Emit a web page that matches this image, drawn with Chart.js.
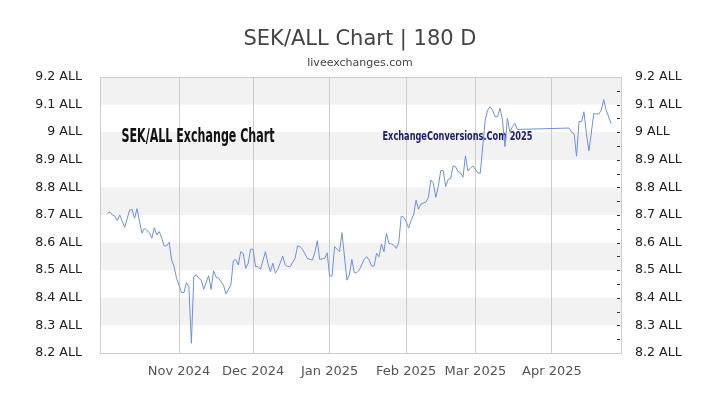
<!DOCTYPE html>
<html><head><meta charset="utf-8">
<script src="https://cdn.jsdelivr.net/npm/chart.js@4.4.1/dist/chart.umd.min.js"></script>
<style>html,body{margin:0;padding:0;background:#fff;}#wrap{width:720px;height:405px;}</style>
</head><body><div id="wrap"><canvas id="c" width="720" height="405"></canvas></div>
<script>
// ---- data ----
const titleText = 'SEK/ALL Chart | 180 D';
const subtitleText = 'liveexchanges.com';
const chartLabel = 'SEK/ALL Exchange Chart';
const watermarkText = 'ExchangeConversions.Com 2025';
const unit = 'ALL';

const dates = [
'2024-10-03','2024-10-04','2024-10-05','2024-10-06','2024-10-07','2024-10-08','2024-10-10','2024-10-12','2024-10-13','2024-10-14',
'2024-10-15','2024-10-16','2024-10-17','2024-10-18','2024-10-20','2024-10-21','2024-10-22','2024-10-23','2024-10-24','2024-10-25',
'2024-10-26','2024-10-27','2024-10-28','2024-10-29','2024-10-30','2024-10-31','2024-11-02','2024-11-03','2024-11-04','2024-11-05',
'2024-11-06','2024-11-07','2024-11-08','2024-11-09','2024-11-10','2024-11-11','2024-11-13','2024-11-14','2024-11-15','2024-11-16',
'2024-11-17','2024-11-19','2024-11-20','2024-11-22','2024-11-23','2024-11-24','2024-11-25','2024-11-26','2024-11-27','2024-11-28',
'2024-11-29','2024-11-30','2024-12-01','2024-12-02','2024-12-03','2024-12-04','2024-12-06','2024-12-07','2024-12-08','2024-12-09',
'2024-12-10','2024-12-11','2024-12-13','2024-12-14','2024-12-15','2024-12-16','2024-12-18','2024-12-19','2024-12-20','2024-12-21',
'2024-12-23','2024-12-24','2024-12-25','2024-12-26','2024-12-27','2024-12-28','2024-12-30','2024-12-31','2025-01-01','2025-01-02',
'2025-01-03','2025-01-05','2025-01-06','2025-01-08','2025-01-09','2025-01-10','2025-01-11','2025-01-12','2025-01-13','2025-01-15',
'2025-01-16','2025-01-17','2025-01-18','2025-01-19','2025-01-20','2025-01-21','2025-01-22','2025-01-23','2025-01-24','2025-01-25',
'2025-01-26','2025-01-27','2025-01-28','2025-01-29','2025-01-30','2025-01-31','2025-02-01','2025-02-02','2025-02-03','2025-02-04',
'2025-02-05','2025-02-06','2025-02-07','2025-02-09','2025-02-10','2025-02-11','2025-02-12','2025-02-13','2025-02-14','2025-02-15',
'2025-02-16','2025-02-17','2025-02-18','2025-02-19','2025-02-20','2025-02-21','2025-02-22','2025-02-23','2025-02-24','2025-02-25',
'2025-02-26','2025-02-27','2025-02-28','2025-03-02','2025-03-03','2025-03-05','2025-03-06','2025-03-07','2025-03-08','2025-03-09',
'2025-03-10','2025-03-11','2025-03-12','2025-03-13','2025-03-14','2025-03-15','2025-03-16','2025-03-17','2025-03-18','2025-04-08',
'2025-04-09','2025-04-10','2025-04-11','2025-04-12','2025-04-13','2025-04-14','2025-04-15','2025-04-16','2025-04-18','2025-04-19',
'2025-04-20','2025-04-21','2025-04-22','2025-04-23','2025-04-25'
];
const rates = [
8.706,8.711,8.700,8.696,8.680,8.700,8.655,8.718,8.720,8.688,
8.723,8.676,8.634,8.652,8.636,8.616,8.654,8.628,8.640,8.616,
8.588,8.588,8.601,8.537,8.513,8.471,8.419,8.419,8.455,8.440,
8.235,8.476,8.483,8.471,8.464,8.431,8.480,8.430,8.498,8.475,
8.471,8.446,8.414,8.446,8.534,8.539,8.519,8.567,8.561,8.507,
8.525,8.576,8.576,8.513,8.513,8.503,8.567,8.525,8.495,8.525,
8.489,8.503,8.551,8.519,8.513,8.513,8.543,8.588,8.585,8.576,
8.543,8.539,8.537,8.563,8.607,8.539,8.543,8.563,8.479,8.479,
8.585,8.567,8.636,8.464,8.483,8.539,8.491,8.491,8.501,8.539,
8.549,8.537,8.515,8.515,8.561,8.549,8.595,8.567,8.634,8.597,
8.595,8.591,8.579,8.600,8.696,8.692,8.676,8.652,8.681,8.700,
8.754,8.721,8.740,8.747,8.764,8.827,8.815,8.764,8.803,8.861,
8.861,8.803,8.829,8.833,8.878,8.875,8.857,8.853,8.837,8.914,
8.859,8.869,8.878,8.853,8.851,9.044,9.080,9.092,9.080,9.056,
9.056,9.087,9.045,8.948,9.050,9.000,9.020,9.032,9.010,9.015,
9.000,8.995,8.913,9.038,9.038,9.074,8.995,8.932,9.068,9.066,
9.066,9.080,9.118,9.080,9.031
];
const xRange = ['2024-09-30', '2025-04-29'];
const monthTickDates = ['2024-11-01','2024-12-01','2025-01-01','2025-02-01','2025-03-01','2025-04-01'];
const monthTickLabels = ['Nov 2024','Dec 2024','Jan 2025','Feb 2025','Mar 2025','Apr 2025'];
const yRange = [8.2, 9.2];

// ---- helpers ----
const BASE = Date.UTC(2024, 10, 1);
function dayNum(s) { const p = s.split('-').map(Number); return (Date.UTC(p[0], p[1]-1, p[2]) - BASE) / 86400000; }
function yLabel(v) { return (Math.round(v * 10) / 10) + ' ' + unit; }
function isMajor(v) { return Math.abs(v * 10 - Math.round(v * 10)) < 1e-6; }

const bandsPlugin = {
  id: 'bands',
  beforeDraw(chart) {
    const { ctx, chartArea: a } = chart;
    const ys = chart.scales.y;
    const t = ys.ticks;
    ctx.save();
    ctx.fillStyle = '#f2f2f2';
    for (let i = 1; i < t.length - 1; i += 2) {
      const y1 = ys.getPixelForValue(t[i].value), y2 = ys.getPixelForValue(t[i+1].value);
      ctx.fillRect(a.left, Math.min(y1, y2), a.right - a.left, Math.abs(y2 - y1));
    }
    ctx.strokeStyle = '#cccccc'; ctx.lineWidth = 1;
    ctx.strokeRect(Math.round(a.left) + 0.5, Math.round(a.top) + 0.5, Math.round(a.right - a.left), Math.round(a.bottom - a.top));
    ctx.restore();
  },
  afterDraw(chart) {
    // small tick dashes inside the right edge for every y2 tick
    const { ctx, chartArea: a } = chart;
    const s = chart.scales.y2;
    ctx.save();
    ctx.strokeStyle = '#333333'; ctx.lineWidth = 1;
    s.ticks.forEach(t => {
      const y = Math.round(s.getPixelForValue(t.value)) + 0.5;
      if (y < a.top + 2 || y > a.bottom - 2) return;
      ctx.beginPath(); ctx.moveTo(Math.round(a.right) - 4, y); ctx.lineTo(Math.round(a.right) - 1, y); ctx.stroke();
    });
    ctx.restore();
  }
};

function drawCondensed(ctx, text, x, baseline, targetW, font, color) {
  ctx.save();
  ctx.font = font; ctx.fillStyle = color; ctx.textBaseline = 'alphabetic'; ctx.textAlign = 'left';
  const w = ctx.measureText(text).width;
  ctx.translate(x, baseline); ctx.scale(targetW / w, 1);
  ctx.fillText(text, 0, 0);
  ctx.restore();
}
const textPlugin = {
  id: 'texts',
  beforeDatasetsDraw(chart) {
    const ctx = chart.ctx, a = chart.chartArea;
    drawCondensed(ctx, chartLabel, a.left + 21.5, a.top + 64.7, 153, 'bold 19px "DejaVu Sans Condensed", "DejaVu Sans"', '#111111');
    drawCondensed(ctx, watermarkText, a.left + 282.5, a.top + 63.3, 150, 'bold 13px "DejaVu Sans Condensed", "DejaVu Sans"', '#1c1c6a');
  }
};

new Chart(document.getElementById('c'), {
  type: 'line',
  data: {
    datasets: [{
      data: dates.map((d, i) => ({ x: dayNum(d), y: rates[i] })),
      borderColor: '#7090dc',
      borderWidth: 1,
      pointRadius: 0,
      tension: 0,
      fill: false
    }]
  },
  options: {
    responsive: false,
    animation: false,
    devicePixelRatio: 1,
    layout: { padding: 0 },
    plugins: {
      legend: { display: false },
      tooltip: { enabled: false },
      title: { display: true, text: titleText, color: '#444444', font: { family: 'DejaVu Sans', size: 21, weight: 'normal' }, padding: { top: 27.4, bottom: 3.8 } },
      subtitle: { display: true, text: subtitleText, color: '#444444', font: { family: 'DejaVu Sans', size: 11, weight: 'normal' }, padding: { top: 0, bottom: 7.4 } }
    },
    scales: {
      x: {
        type: 'linear',
        min: dayNum(xRange[0]), max: dayNum(xRange[1]),
        afterBuildTicks: s => { s.ticks = monthTickDates.map(d => ({ value: dayNum(d) })); },
        afterFit: s => { s.height = 52; },
        ticks: { callback: (v, i) => monthTickLabels[i], color: '#555555', font: { family: 'DejaVu Sans', size: 13 }, padding: 11, maxRotation: 0, autoSkip: false },
        grid: { display: true, color: '#cccccc', drawTicks: false, lineWidth: 1 },
        border: { display: true, color: '#cccccc' }
      },
      y: {
        position: 'left',
        min: yRange[0], max: yRange[1],
        afterFit: s => { s.width = 100; },
        ticks: { stepSize: 0.1, callback: v => yLabel(v), color: '#222222', font: { family: 'DejaVu Sans', size: 12.6 }, padding: 10, autoSkip: false },
        grid: { display: false },
        border: { display: true, color: '#cccccc' }
      },
      y2: {
        position: 'right',
        min: yRange[0], max: yRange[1],
        afterFit: s => { s.width = 99; },
        ticks: { stepSize: 0.05, callback: v => isMajor(v) ? yLabel(v) : '', color: '#222222', font: { family: 'DejaVu Sans', size: 12.6 }, padding: 6, autoSkip: false },
        grid: { display: false },
        border: { display: true, color: '#cccccc' }
      }
    }
  },
  plugins: [bandsPlugin, textPlugin]
});
</script></body></html>
